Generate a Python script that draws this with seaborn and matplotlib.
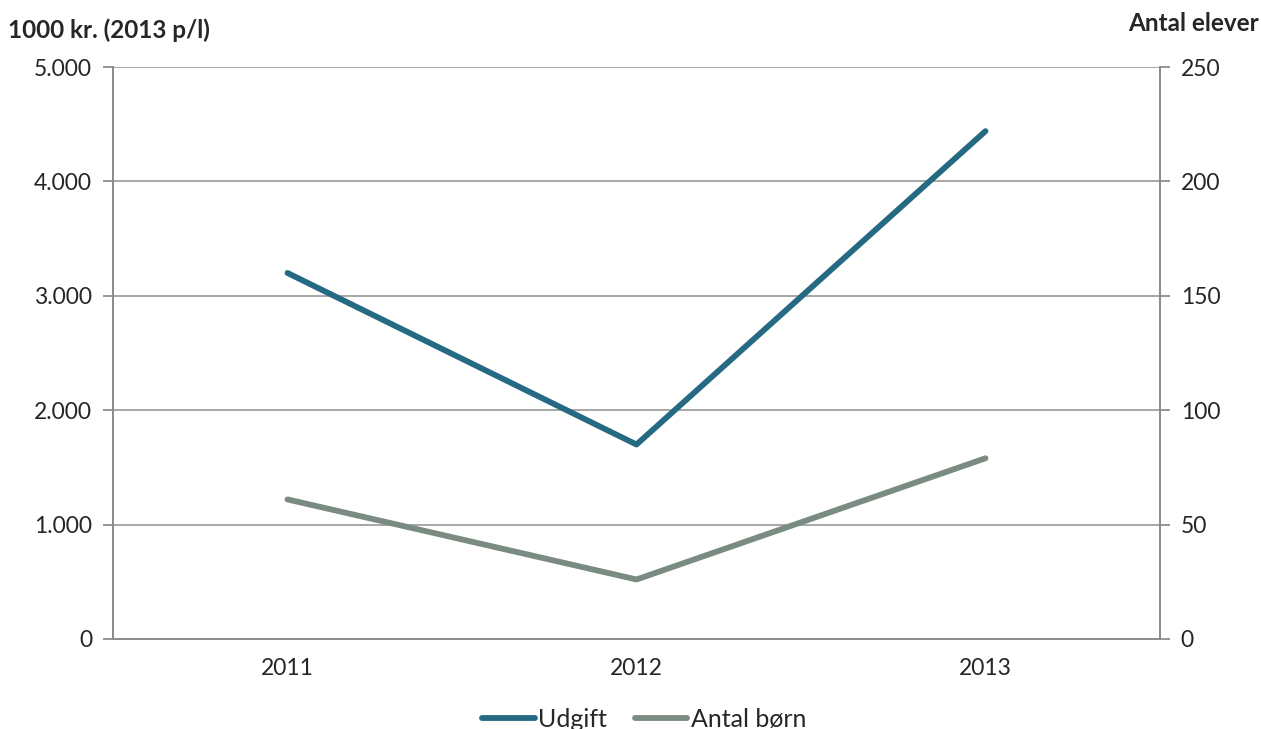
import matplotlib
matplotlib.use("Agg")
import matplotlib.pyplot as plt
import seaborn as sns
import pandas as pd
from matplotlib.lines import Line2D

# Data
years = ["2011", "2012", "2013"]
udgift = [3200, 1700, 4440]          # 1000 kr. (2013 p/l), left axis
antal_boern = [61, 26, 79]           # Antal elever, right axis
left_ticks = [0, 1000, 2000, 3000, 4000, 5000]
left_ticklabels = ["0", "1.000", "2.000", "3.000", "4.000", "5.000"]
right_ticks = [0, 50, 100, 150, 200, 250]

sns.set_style("white")
plt.rcParams["font.family"] = ["Lato", "DejaVu Sans"]

c_udgift = "#256983"
c_antal = "#7a8b82"
c_axis = "#8c8c8c"

df = pd.DataFrame({"year": years, "udgift": udgift, "antal": antal_boern})
df["x"] = range(len(years))

fig = plt.figure(figsize=(12.61, 7.29), dpi=100)
ax = fig.add_axes([0.0896, 0.1235, 0.8303, 0.7845])
ax2 = ax.twinx()

sns.lineplot(data=df, x="x", y="udgift", ax=ax, color=c_udgift, linewidth=4.2,
             solid_capstyle="round", zorder=3)
sns.lineplot(data=df, x="x", y="antal", ax=ax2, color=c_antal, linewidth=4.2,
             solid_capstyle="round", zorder=3)

ax.set_xlim(-0.5, len(years) - 0.5)
ax.set_ylim(0, 5000)
ax2.set_ylim(0, 250)

ax.set_yticks(left_ticks)
ax.set_yticklabels(left_ticklabels)
ax2.set_yticks(right_ticks)
ax2.set_yticklabels([str(t) for t in right_ticks])

# category labels centred, tick marks between categories
ax.set_xticks(range(len(years)))
ax.set_xticklabels(years)
ax.set_xticks([i - 0.5 for i in range(len(years) + 1)], minor=True)
ax.tick_params(axis="x", which="major", length=0, pad=14, labelsize=16.5)
ax.tick_params(axis="x", which="minor", length=7, width=1.3, color=c_axis)
ax.tick_params(axis="y", length=7, width=1.3, color=c_axis, labelsize=16.5, pad=8)
ax2.tick_params(axis="y", length=7, width=1.3, color=c_axis, labelsize=16.5, pad=8)

ax.set_xlabel("")
ax.set_ylabel("")
ax2.set_ylabel("")

ax.grid(axis="y", color="#a0a0a0", linewidth=1.3)
ax.set_axisbelow(True)
for a in (ax, ax2):
    a.spines["top"].set_visible(False)
    for side in ("left", "right", "bottom"):
        a.spines[side].set_color(c_axis)
        a.spines[side].set_linewidth(1.3)

fig.text(0.006, 0.958, "1000 kr. (2013 p/l)", fontsize=17.5, fontweight="bold",
         ha="left", va="center")
fig.text(0.998, 0.968, "Antal elever", fontsize=17.5, fontweight="bold",
         ha="right", va="center")

handles = [Line2D([0], [0], color=c_udgift, lw=4.2, solid_capstyle="round"),
           Line2D([0], [0], color=c_antal, lw=4.2, solid_capstyle="round")]
fig.legend(handles, ["Udgift", "Antal børn"], loc="center", ncol=2,
           bbox_to_anchor=(0.511, 0.013), frameon=False, fontsize=18,
           handlelength=2.1, handletextpad=0.15, columnspacing=1.1)

fig.savefig("out.png", dpi=100)
